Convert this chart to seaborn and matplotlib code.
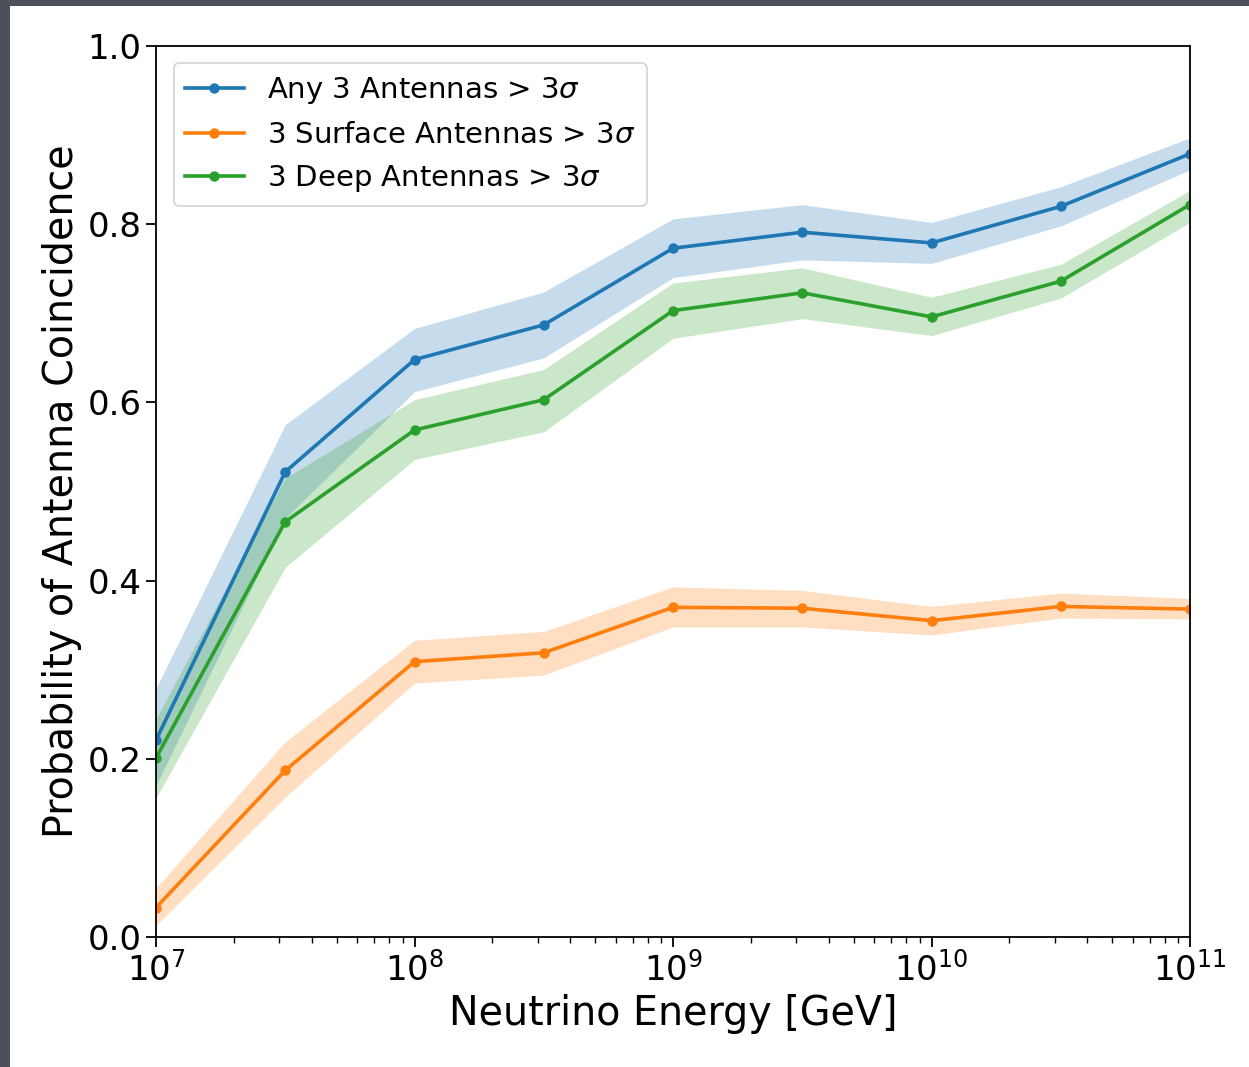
import matplotlib
matplotlib.use('Agg')
import matplotlib.pyplot as plt
import seaborn as sns
import numpy as np
import pandas as pd
from matplotlib.patches import Rectangle


# === Data ===

log_energy = [7.0, 7.5, 8.0, 8.5, 9.0, 9.5, 10.0, 10.5, 11.0]

any_mean = [0.221, 0.522, 0.648, 0.687, 0.773, 0.791, 0.779, 0.820, 0.879]
any_low = [0.170, 0.470, 0.612, 0.650, 0.740, 0.760, 0.756, 0.798, 0.861]
any_high = [0.279, 0.575, 0.683, 0.724, 0.806, 0.822, 0.802, 0.842, 0.897]

surface_mean = [0.033, 0.187, 0.309, 0.319, 0.370, 0.369, 0.355, 0.371, 0.368]
surface_low = [0.013, 0.157, 0.285, 0.294, 0.348, 0.348, 0.339, 0.358, 0.357]
surface_high = [0.055, 0.219, 0.333, 0.343, 0.393, 0.389, 0.371, 0.386, 0.380]

deep_mean = [0.201, 0.466, 0.569, 0.603, 0.703, 0.723, 0.696, 0.736, 0.822]
deep_low = [0.156, 0.415, 0.536, 0.567, 0.672, 0.694, 0.675, 0.717, 0.802]
deep_high = [0.245, 0.515, 0.603, 0.637, 0.734, 0.751, 0.718, 0.755, 0.838]

labels = [
    r'Any 3 Antennas > 3$\sigma$',
    r'3 Surface Antennas > 3$\sigma$',
    r'3 Deep Antennas > 3$\sigma$',
]


# === Build the table ===

energy = [10 ** e for e in log_energy]
series = [
    (labels[0], any_mean, any_low, any_high),
    (labels[1], surface_mean, surface_low, surface_high),
    (labels[2], deep_mean, deep_low, deep_high),
]
frames = []
for name, mean, low, high in series:
    frames.append(pd.DataFrame({
        'energy': energy, 'prob': mean, 'low': low, 'high': high, 'trigger': name,
    }))
df = pd.concat(frames, ignore_index=True)
colors = dict(zip(labels, ['#1f77b4', '#ff7f0e', '#2ca02c']))


# === Plot ===

fig = plt.figure(figsize=(12.49, 10.67), dpi=100)
fig.patch.set_facecolor('#4b505b')
fig.patches.append(Rectangle((10 / 1249, 0), 1, 1 - 6 / 1067,
                             transform=fig.transFigure, facecolor='white',
                             edgecolor='none', zorder=-1))
ax = fig.add_axes([156 / 1249, 130 / 1067, 1034 / 1249, 891 / 1067])

# Confidence bands first, then the lines on top.
for name in labels:
    sub = df[df['trigger'] == name]
    ax.fill_between(sub['energy'], sub['low'], sub['high'],
                    color=colors[name], alpha=0.25, linewidth=0)

sns.lineplot(data=df, x='energy', y='prob', hue='trigger', palette=colors,
             marker='o', markersize=7.5, markeredgewidth=0, linewidth=2.6,
             ax=ax, errorbar=None)

ax.set_xscale('log')
ax.set_xlim(1e7, 1e11)
ax.set_ylim(0, 1.0)
ax.set_yticks([0.0, 0.2, 0.4, 0.6, 0.8, 1.0])
ax.tick_params(axis='both', which='major', labelsize=24.5, length=7, width=1.3)
ax.tick_params(axis='x', which='minor', length=4, width=1.0)
for spine in ax.spines.values():
    spine.set_linewidth(1.3)

ax.set_xlabel('Neutrino Energy [GeV]', fontsize=28.5, labelpad=5)
ax.set_ylabel('Probability of Antenna Coincidence', fontsize=28.5)

leg = ax.legend(loc='upper left', fontsize=21, frameon=True,
                borderaxespad=0.6, handlelength=2.0)
leg.get_frame().set_linewidth(1.3)

fig.savefig('out.png', dpi=100, facecolor=fig.get_facecolor())
